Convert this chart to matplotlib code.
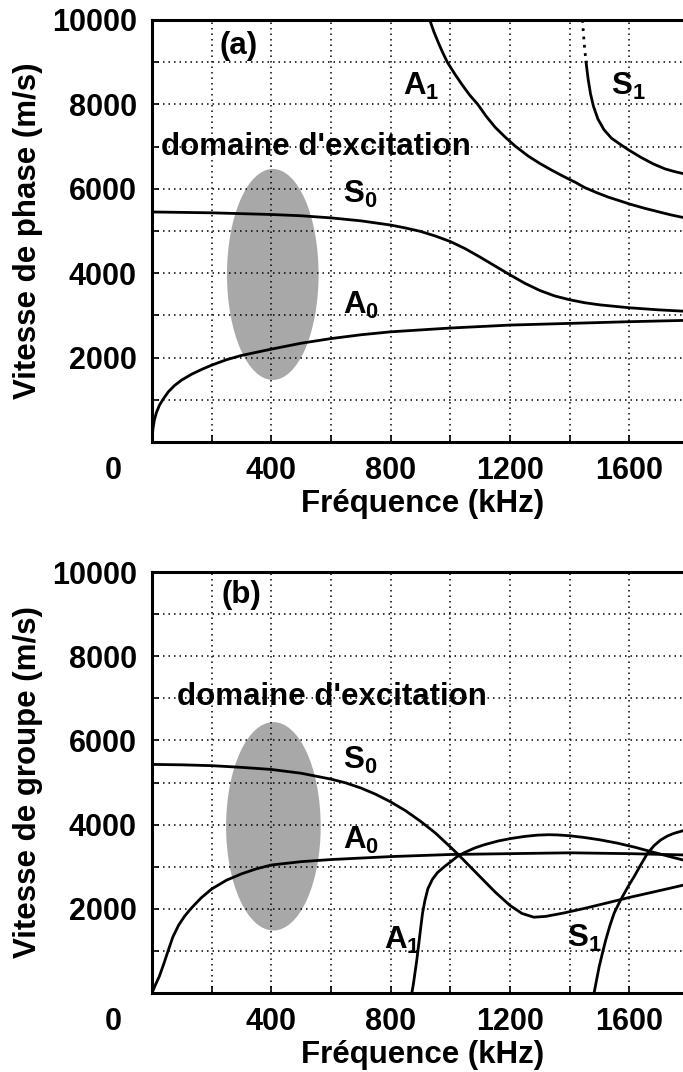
import numpy as np
import matplotlib
matplotlib.use('Agg')
import matplotlib.pyplot as plt
from matplotlib.patches import Ellipse
from matplotlib.ticker import MultipleLocator

plt.rcParams['font.family'] = ['Liberation Sans', 'DejaVu Sans']
plt.rcParams['font.weight'] = 'bold'
plt.rcParams['mathtext.fontset'] = 'custom'
plt.rcParams['mathtext.rm'] = 'Liberation Sans:bold'
plt.rcParams['mathtext.it'] = 'Liberation Sans:bold'
plt.rcParams['mathtext.bf'] = 'Liberation Sans:bold'
plt.rcParams['mathtext.default'] = 'rm'

# axes
x_ticks = [0, 400, 800, 1200, 1600]
y_ticks = [2000, 4000, 6000, 8000, 10000]
x_max = 1780

# (a) vitesse de phase, frequency in kHz, velocity in m/s
a_S0_f = [0, 200, 400, 500, 600, 700, 800, 850, 900, 950, 1000, 1050, 1100, 1150,
          1200, 1250, 1300, 1350, 1400, 1450, 1500, 1600, 1700, 1780]
a_S0_v = [5450, 5430, 5390, 5360, 5310, 5240, 5140, 5070, 4990, 4880, 4750, 4580,
          4380, 4170, 3960, 3760, 3590, 3460, 3370, 3300, 3250, 3180, 3130, 3100]

a_A0_f = [0, 3, 8, 15, 25, 37, 55, 76, 100, 134, 170, 200, 250, 300, 400, 500,
          600, 700, 800, 1000, 1200, 1400, 1600, 1780]
a_A0_v = [0, 300, 520, 700, 870, 1010, 1190, 1340, 1470, 1610, 1730, 1820, 1950,
          2050, 2200, 2340, 2450, 2540, 2610, 2700, 2770, 2810, 2850, 2880]

a_A1_f = [931, 945, 960, 975, 990, 1015, 1040, 1065, 1092, 1120, 1150, 1183, 1216,
          1260, 1300, 1340, 1380, 1420, 1450, 1490, 1530, 1570, 1600, 1650, 1700,
          1740, 1780]
a_A1_v = [10000, 9720, 9460, 9220, 9000, 8720, 8460, 8220, 8000, 7720, 7460, 7230,
          7020, 6780, 6600, 6440, 6290, 6150, 6030, 5910, 5800, 5710, 5640, 5540,
          5450, 5380, 5320]

a_S1_f = [1443, 1446, 1450, 1455, 1462, 1470, 1480, 1495, 1515, 1540, 1570, 1600,
          1640, 1680, 1720, 1750, 1780]
a_S1_v = [10000, 9700, 9350, 9000, 8600, 8250, 7950, 7650, 7400, 7200, 7050, 6910,
          6740, 6590, 6470, 6410, 6360]
a_S1_dotted = 4  # first points drawn dotted

# (b) vitesse de groupe
b_S0_f = [0, 100, 200, 300, 400, 500, 600, 650, 700, 750, 800, 850, 900, 950, 1000,
          1025, 1050, 1100, 1150, 1200, 1240, 1280, 1320, 1380, 1450, 1520, 1600,
          1700, 1780]
b_S0_v = [5430, 5420, 5400, 5360, 5310, 5220, 5080, 4990, 4870, 4720, 4540, 4330,
          4080, 3800, 3470, 3300, 3120, 2760, 2400, 2080, 1890, 1800, 1820, 1900,
          2010, 2130, 2270, 2430, 2560]

b_A0_f = [0, 12, 25, 40, 54, 70, 90, 110, 130, 150, 165, 200, 250, 300, 350, 400,
          500, 600, 800, 1000, 1200, 1400, 1600, 1780]
b_A0_v = [0, 200, 400, 700, 1000, 1330, 1620, 1830, 2000, 2150, 2260, 2470, 2680,
          2830, 2950, 3040, 3120, 3170, 3240, 3290, 3310, 3330, 3310, 3280]

b_A1_f = [871, 876, 882, 888, 894, 900, 907, 915, 925, 940, 957, 980, 1002, 1023,
          1046, 1080, 1113, 1160, 1203, 1250, 1292, 1330, 1359, 1400, 1448, 1500,
          1560, 1620, 1672, 1730, 1780]
b_A1_v = [0, 200, 500, 800, 1150, 1500, 1900, 2200, 2480, 2700, 2860, 3000, 3120,
          3240, 3330, 3440, 3520, 3610, 3670, 3720, 3750, 3760, 3755, 3735, 3695,
          3640, 3560, 3460, 3360, 3250, 3160]

b_S1_f = [1482, 1490, 1499, 1510, 1521, 1535, 1549, 1563, 1577, 1596, 1616, 1638,
          1661, 1683, 1705, 1728, 1750, 1780]
b_S1_v = [0, 300, 625, 950, 1259, 1600, 1893, 2100, 2287, 2530, 2762, 3040, 3318,
          3500, 3634, 3730, 3793, 3855]

# excitation domain (centre f, centre v, width, height)
a_zone = (405, 3970, 307, 5000)
b_zone = (407, 3960, 317, 4950)

fs = 22.5

fig = plt.figure(figsize=(6.83, 10.72), dpi=100)
ax_a = fig.add_axes([0.2225, 0.5877, 0.7775, 0.3937])
ax_b = fig.add_axes([0.2225, 0.0737, 0.7775, 0.3927])


def style(ax, ylabel):
    ax.set_xlim(0, x_max)
    ax.set_ylim(0, 10000)
    ax.set_xticks(x_ticks)
    ax.set_xticklabels([''] + [str(t) for t in x_ticks[1:]])
    ax.xaxis.set_minor_locator(MultipleLocator(200))
    ax.set_yticks(y_ticks)
    ax.set_yticklabels([str(t) for t in y_ticks])
    ax.yaxis.set_minor_locator(MultipleLocator(1000))
    ax.set_axisbelow(True)
    ax.grid(True, which='both', color='k', lw=1.1, ls=(0, (1, 2.6)))
    ax.tick_params(which='both', direction='in', length=5, width=1.2,
                   labelsize=22, top=False, right=False)
    ax.tick_params(axis='x', pad=10)
    ax.tick_params(axis='y', pad=11)
    for s in ('top', 'bottom', 'left'):
        ax.spines[s].set_linewidth(2.2)
    ax.spines['right'].set_visible(False)
    ax.set_ylabel(ylabel, fontsize=fs, fontweight='bold')
    ax.yaxis.set_label_coords(-0.205, 0.5)
    ax.set_xlabel('Fréquence (kHz)', fontsize=fs, fontweight='bold')
    ax.xaxis.set_label_coords(0.51, -0.112)
    ax.annotate('0', xy=(0, 0), xycoords='axes fraction', xytext=(-39, -14),
                textcoords='offset pixels', ha='center', va='top', fontsize=22)


def zone(ax, z):
    ax.add_patch(Ellipse((z[0], z[1]), z[2], z[3], facecolor='#a8a8a8',
                         edgecolor='none', zorder=0.3))


lw = 2.0

# panel (a)
style(ax_a, 'Vitesse de phase (m/s)')
zone(ax_a, a_zone)
ax_a.plot(a_S0_f, a_S0_v, 'k', lw=lw)
ax_a.plot(a_A0_f, a_A0_v, 'k', lw=lw)
ax_a.plot(a_A1_f, a_A1_v, 'k', lw=lw)
ax_a.plot(a_S1_f[:a_S1_dotted], a_S1_v[:a_S1_dotted], 'k', lw=lw, ls=(0, (1, 2)))
ax_a.plot(a_S1_f[a_S1_dotted - 1:], a_S1_v[a_S1_dotted - 1:], 'k', lw=lw)
ax_a.text(290, 9380, '(a)', ha='center', va='center', fontsize=fs)
ax_a.text(843, 8430, 'A$_1$', ha='left', va='center', fontsize=fs)
ax_a.text(1538, 8430, 'S$_1$', ha='left', va='center', fontsize=fs)
ax_a.text(29, 7000, "domaine d'excitation", ha='left', va='center', fontsize=fs)
ax_a.text(639, 5860, 'S$_0$', ha='left', va='center', fontsize=fs)
ax_a.text(639, 3240, 'A$_0$', ha='left', va='center', fontsize=fs)

# panel (b)
style(ax_b, 'Vitesse de groupe (m/s)')
zone(ax_b, b_zone)
ax_b.plot(b_S0_f, b_S0_v, 'k', lw=lw)
ax_b.plot(b_A0_f, b_A0_v, 'k', lw=lw)
ax_b.plot(b_A1_f, b_A1_v, 'k', lw=lw)
ax_b.plot(b_S1_f, b_S1_v, 'k', lw=lw)
ax_b.text(299, 9450, '(b)', ha='center', va='center', fontsize=fs)
ax_b.text(83, 7040, "domaine d'excitation", ha='left', va='center', fontsize=fs)
ax_b.text(639, 5530, 'S$_0$', ha='left', va='center', fontsize=fs)
ax_b.text(639, 3620, 'A$_0$', ha='left', va='center', fontsize=fs)
ax_b.text(778, 1250, 'A$_1$', ha='left', va='center', fontsize=fs)
ax_b.text(1392, 1290, 'S$_1$', ha='left', va='center', fontsize=fs)

fig.savefig('out.png', dpi=100)
